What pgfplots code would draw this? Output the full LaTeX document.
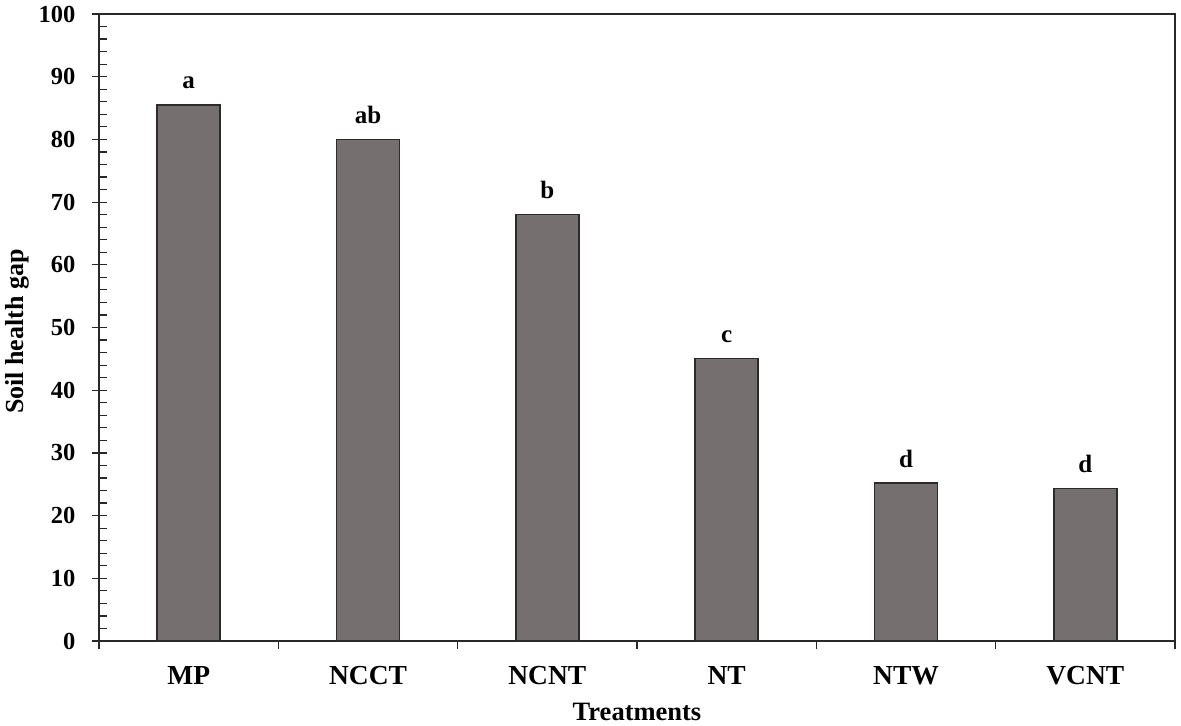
\documentclass[border=0pt]{standalone}
\usepackage{fontspec}
\setmainfont{Liberation Serif}
\usepackage{pgfplots}
\pgfplotsset{compat=1.18}
\definecolor{barfill}{RGB}{117,111,111}
\definecolor{baredge}{RGB}{45,42,42}
\definecolor{axcol}{RGB}{40,40,40}
\begin{document}
\begin{tikzpicture}
\begin{axis}[
  name=ax,
  scale only axis,
  width=1076pt, height=627pt,
  xmin=-0.5, xmax=5.5,
  ymin=0, ymax=100,
  ybar, bar width=63pt,
  axis line style={axcol, line width=1.4pt},
  xtick pos=bottom, ytick pos=left,
  xtick={0,1,2,3,4,5},
  xticklabels={MP,NCCT,NCNT,NT,NTW,VCNT},
  minor xtick={-0.5,0.5,1.5,2.5,3.5,4.5,5.5},
  ytick={0,10,...,100},
  minor ytick={2,4,...,98},
  tick align=center,
  major tick length=14pt,
  minor tick length=8pt,
  major x tick style={draw=none},
  minor x tick style={yshift=-4pt, axcol, line width=1.2pt},
  minor y tick style={xshift=4pt, axcol, line width=1.2pt},
  major y tick style={axcol, line width=1.2pt},
  /pgf/number format/assume math mode=true,
  yticklabel style={font=\fontsize{24.5}{24.5}\selectfont\bfseries, xshift=-13pt},
  xticklabel style={font=\fontsize{27.5}{27.5}\selectfont\bfseries, text height=18.5pt, text depth=0pt, yshift=-14pt},
  ylabel={Soil health gap},
  xlabel={Treatments},
  ylabel style={font=\fontsize{26}{26}\selectfont\bfseries, at={(rel axis cs:0,0.5)}, anchor=center, yshift=82pt, xshift=-4pt},
  xlabel style={font=\fontsize{26.5}{26.5}\selectfont\bfseries, at={(rel axis cs:0.5,0)}, anchor=center, yshift=-71pt},
  nodes near coords={\pgfplotspointmeta},
  point meta=explicit symbolic,
  every node near coord/.append style={font=\fontsize{25}{25}\selectfont\bfseries, anchor=base, yshift=16pt, inner sep=0pt, text=black},
  clip=false,
]
\addplot[fill=barfill, draw=baredge, line width=1.4pt] table[x=x, y=y, meta=lab] {
x y lab
0 85.5 a
1 80.0 ab
2 68.0 b
3 45.1 c
4 25.2 d
5 24.3 d
};
\end{axis}
\pgfresetboundingbox
\path[use as bounding box] ([xshift=-99pt,yshift=-84pt]ax.south west) rectangle ([xshift=6pt,yshift=14pt]ax.north east);
\end{tikzpicture}
\end{document}
